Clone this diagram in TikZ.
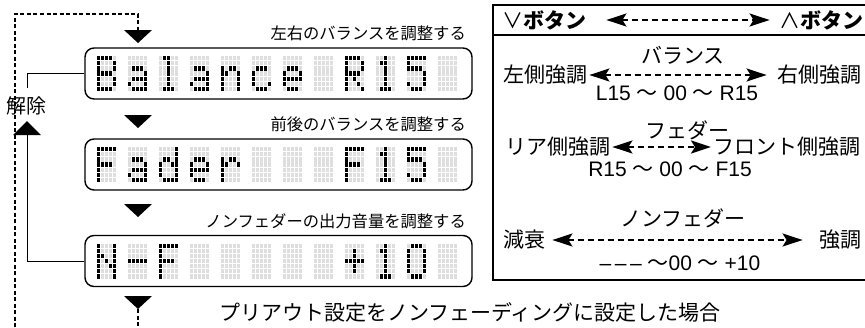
\documentclass[tikz,border=0pt]{standalone}
\usepackage{fontspec}
\setmainfont{Noto Sans CJK JP}
\newfontfamily\latn{Liberation Sans}
\usetikzlibrary{arrows.meta,calc}
\definecolor{lcdoff}{gray}{0.87}
% dot-matrix machinery
\def\lcdcell#1#2#3#4#5#6#7{\lcdrow{0}#1\lcdrow{1}#2\lcdrow{2}#3\lcdrow{3}#4\lcdrow{4}#5\lcdrow{5}#6\lcdrow{6}#7}
\def\lcdrow#1#2#3#4#5#6{\lcddot{#1}{0}{#2}\lcddot{#1}{1}{#3}\lcddot{#1}{2}{#4}\lcddot{#1}{3}{#5}\lcddot{#1}{4}{#6}}
\def\lcddot#1#2#3{\ifnum#3=1 \def\lcdcol{black}\else\def\lcdcol{lcdoff}\fi
  \fill[fill=\lcdcol] (\lcdX+#2*4.1,\lcdY+#1*5.15) rectangle ++(3.4,4.2);}
\def\lcdgB{\lcdcell{11110}{10001}{10001}{11110}{10001}{10001}{11110}}
\def\lcdga{\lcdcell{00000}{00000}{01110}{00001}{01111}{10001}{01111}}
\def\lcdgl{\lcdcell{01100}{00100}{00100}{00100}{00100}{00100}{01110}}
\def\lcdgn{\lcdcell{00000}{00000}{10110}{11001}{10001}{10001}{10001}}
\def\lcdgc{\lcdcell{00000}{00000}{01110}{10000}{10000}{10001}{01110}}
\def\lcdge{\lcdcell{00000}{00000}{01110}{10001}{11111}{10000}{01110}}
\def\lcdgR{\lcdcell{11110}{10001}{10001}{11110}{10100}{10010}{10001}}
\def\lcdgone{\lcdcell{00100}{01100}{00100}{00100}{00100}{00100}{01110}}
\def\lcdgfive{\lcdcell{11111}{10000}{11110}{00001}{00001}{10001}{01110}}
\def\lcdgF{\lcdcell{11111}{10000}{10000}{11110}{10000}{10000}{10000}}
\def\lcdgd{\lcdcell{00001}{00001}{01101}{10011}{10001}{10001}{01111}}
\def\lcdgr{\lcdcell{00000}{00000}{10110}{11001}{10000}{10000}{10000}}
\def\lcdgN{\lcdcell{10001}{10001}{11001}{10101}{10011}{10001}{10001}}
\def\lcdgminus{\lcdcell{00000}{00000}{00000}{11111}{00000}{00000}{00000}}
\def\lcdgplus{\lcdcell{00000}{00100}{00100}{11111}{00100}{00100}{00000}}
\def\lcdgzero{\lcdcell{01110}{10001}{10001}{10001}{10001}{10001}{01110}}
\def\lcdgsp{\lcdcell{00000}{00000}{00000}{00000}{00000}{00000}{00000}}
\newcommand\lcdtext[2]{\foreach \g [count=\i from 0] in {#2}{%
  \pgfmathsetmacro\lcdX{96.5+\i*31}\def\lcdY{#1}\csname lcdg\g\endcsname}}
\tikzset{
  lcdbox/.style={draw, line width=1.4pt, rounded corners=9pt, minimum width=387pt, minimum height=51pt, inner sep=0pt},
  lbl/.style={font=\fontsize{16.3}{18}\selectfont, inner sep=0pt},
  ptxt/.style={font=\fontsize{21}{24}\selectfont, inner sep=2pt},
  ltxt/.style={font=\fontsize{21}{24}\selectfont\latn, inner sep=2pt},
  hdr/.style={font=\fontsize{21}{24}\selectfont\bfseries, inner sep=2pt},
  conn/.style={line width=1pt},
  loopline/.style={line width=1.3pt, dash pattern=on 4pt off 2.5pt},
  tipa/.tip={Stealth[length=20pt,width=13pt,inset=4pt]},
  dasharrow/.style={line width=2.2pt, dash pattern=on 6pt off 4pt, tipa-tipa},
}
\begin{document}
\begin{tikzpicture}[x=1pt,y=-1pt]
\useasboundingbox (0,0) rectangle (865,327);
% displays
\node[lcdbox] (d1) at (278.5,73.5) {};
\node[lcdbox] (d2) at (278.5,164.5) {};
\node[lcdbox] (d3) at (278.5,261) {};
\lcdtext{56}{B,a,l,a,n,c,e,sp,R,one,five,sp}
\lcdtext{147}{F,a,d,e,r,sp,sp,sp,F,one,five,sp}
\lcdtext{243.5}{N,minus,F,sp,sp,sp,sp,sp,plus,one,zero,sp}
% labels
\node[lbl, anchor=east] (l1) at (466,33) {左右のバランスを調整する};
\node[lbl, anchor=east] (l2) at (466,124) {前後のバランスを調整する};
\node[lbl, anchor=east] (l3) at (466,221) {ノンフェダーの出力音量を調整する};
% down triangles
\coordinate (t0) at (138,30);
\coordinate (t3) at (138,309);
\fill (124,30) -- (152,30) -- (138,43) -- cycle;
\fill (124,115) -- (152,115) -- (138,128) -- cycle;
\fill (124,204) -- (152,204) -- (138,217) -- cycle;
\fill (124,296) -- (152,296) -- (138,309) -- cycle;
% dashed loop
\coordinate (lb) at (15,327);
\coordinate (rb) at (138,327);
\draw[loopline] (lb) |- (138,14) -- (t0);
\draw[loopline] (t3) -- (rb);
% release loop
\node[font=\fontsize{20}{22}\selectfont, inner sep=0pt] (kaijo) at (26,106) {解除};
\coordinate (up) at (27,135);
\coordinate (kj) at (27,88);
\draw[conn] (d3.west) -| (up);
\fill (13,135) -- (41,135) -- (27,121) -- cycle;
\draw[conn] (kj) |- (d1.west);
% right panel
\draw[line width=1.2pt] (865.5,5) -- (493,5) -- (493,280) -- (865.5,280);
\draw[line width=1.2pt] (493,35) -- (865.5,35);
\node[hdr, anchor=west] (vb) at (500,20) {{\mdseries ∨}ボタン};
\node[hdr, anchor=east] (ab) at (866,20) {{\mdseries ∧}ボタン};
\draw[dasharrow] ([xshift=18pt]vb.east) -- ([xshift=-8pt]ab.west);
\node[ptxt] (bal) at (683,55) {バランス};
\node[ptxt, anchor=west] (lk) at (501,75) {左側強調};
\node[ptxt, anchor=east] (rk) at (864,75) {右側強調};
\draw[dasharrow] (lk.east) -- ([xshift=-9pt]rk.west);
\node[ltxt] (lr) at (677,93) {L15 {\rmfamily ～} 00 {\rmfamily ～} R15};
\node[ptxt] (fd) at (687,130) {フェダー};
\node[ptxt, anchor=west] (ra) at (503,147) {リア側強調};
\node[ptxt, anchor=west] (fr) at (711,147) {フロント側強調};
\draw[dasharrow] (ra.east) -- (fr.west);
\node[ltxt] (rf) at (670,169) {R15 {\rmfamily ～} 00 {\rmfamily ～} F15};
\node[ptxt] (nf) at (683,218) {ノンフェダー};
\node[ptxt, anchor=west] (gs) at (501,240) {減衰};
\node[ptxt, anchor=east] (ky) at (864,240) {強調};
\draw[dasharrow] ([xshift=5pt]gs.east) -- ([xshift=-15pt]ky.west);
\node[ltxt] (pm) at (680,263) {–\,–\,– {\rmfamily ～}00 {\rmfamily ～} +10};
\node[font=\fontsize{21}{24}\selectfont, inner sep=0pt] (note) at (470,312) {プリアウト設定をノンフェーディングに設定した場合};
\end{tikzpicture}
\end{document}
